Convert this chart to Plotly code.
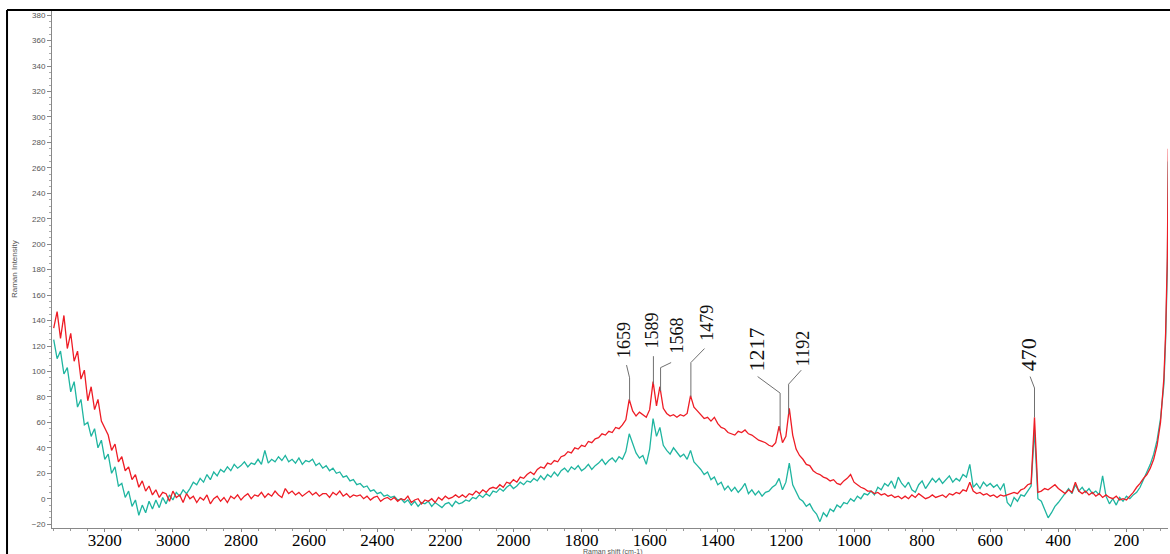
import numpy as np
import plotly.graph_objects as go

# ---------------- data ----------------
wavenumber = list(range(3350, 89, -10)) + [85, 80, 77]

red_intensity = (
    [134, 147, 126, 144, 118, 130, 108, 116, 94, 101]      # 3350-3260
    + [77, 88, 70, 78, 61, 55, 50, 38, 43, 29]             # 3250-3160
    + [33, 22, 25, 15, 19, 9, 14, 6, 10, 3]                # 3150-3060
    + [7, 1, 5, 4, -2, 6, 1, 3, -3, 4]                     # 3050-2960
    + [0, 2, -3, 1, -1, 3, -4, 0, 2, -2]                   # 2950-2860
    + [1, -3, 2, 0, 3, -1, 2, 4, 0, 3]                     # 2850-2760
    + [2, 5, 1, 4, 2, 6, 3, 1, 8, 4]                       # 2750-2660
    + [6, 3, 5, 2, 4, 6, 3, 5, 2, 4]                       # 2650-2560
    + [4, 1, 5, 3, 6, 2, 4, 1, 3, 2]                       # 2550-2460
    + [3, 0, 2, -1, 1, 2, -2, 0, 1, -1]                    # 2450-2360
    + [1, -2, 0, -1, 2, -3, -1, 0, -4, -1]                 # 2350-2260
    + [-2, 0, -3, 1, -1, 2, 0, 1, 3, 1]                    # 2250-2160
    + [3, 1, 4, 3, 6, 4, 7, 5, 8, 9]                       # 2150-2060
    + [8, 11, 9, 13, 12, 15, 13, 17, 16, 19]               # 2050-1960
    + [21, 19, 23, 25, 24, 28, 27, 30, 29, 33]             # 1950-1860
    + [34, 37, 36, 40, 39, 42, 41, 45, 44, 47]             # 1850-1760
    + [48, 51, 50, 53, 52, 56, 55, 58, 62, 78]             # 1750-1660
    + [69, 65, 68, 66, 64, 70, 92, 73, 88, 71]             # 1650-1560
    + [67, 65, 66, 64, 66, 65, 67, 81, 72, 69]             # 1550-1460
    + [66, 63, 64, 61, 64, 59, 56, 55, 52, 51]             # 1450-1360
    + [50, 53, 52, 54, 51, 50, 48, 46, 45, 44]             # 1350-1260
    + [42, 41, 44, 57, 44, 49, 71, 50, 39, 34]             # 1250-1160
    + [31, 27, 26, 22, 20, 19, 17, 16, 14, 15]             # 1150-1060
    + [12, 11, 14, 16, 19, 13, 11, 9, 8, 6]                # 1050-960
    + [6, 4, 5, 3, 4, 2, 3, 1, 2, 0]                       # 950-860
    + [2, 0, 3, 1, 4, 2, 0, 1, 3, 1]                       # 850-760
    + [2, 3, 1, 4, 3, 5, 4, 7, 6, 13]                      # 750-660
    + [6, 4, 5, 3, 4, 2, 3, 1, 3, 2]                       # 650-560
    + [3, 4, 5, 4, 7, 8, 11, 12, 64, 5]                    # 550-460
    + [6, 8, 7, 9, 11, 8, 6, 4, 7, 5]                      # 450-360
    + [13, 6, 4, 6, 3, 5, 2, 4, 1, 3]                      # 350-260
    + [1, 0, 2, -1, 0, -1, 2, 5, 9, 12]                    # 250-160
    + [16, 19, 24, 31, 42, 60, 95]                         # 150-90
    + [130, 190, 275]                                      # 85, 80, 77
)

teal_intensity = (
    [125, 110, 116, 98, 103, 84, 92, 72, 78, 58]           # 3350-3260
    + [60, 49, 55, 40, 46, 31, 35, 20, 25, 10]             # 3250-3160
    + [12, 1, 6, -6, -1, -13, -5, -11, -2, -8]             # 3150-3060
    + [-1, -7, 1, -4, 3, -1, 5, 2, 7, 4]                   # 3050-2960
    + [8, 13, 11, 16, 13, 19, 15, 21, 18, 23]              # 2950-2860
    + [21, 25, 22, 27, 24, 26, 29, 25, 28, 27]             # 2850-2760
    + [31, 27, 38, 28, 31, 29, 33, 30, 34, 29]             # 2750-2660
    + [31, 28, 32, 27, 30, 29, 31, 26, 28, 24]             # 2650-2560
    + [26, 22, 24, 20, 21, 17, 18, 14, 15, 11]             # 2550-2460
    + [12, 9, 10, 6, 7, 4, 5, 2, 3, 1]                     # 2450-2360
    + [2, -1, 0, -3, -1, -5, -2, -6, -3, -4]               # 2350-2260
    + [-2, -6, -3, -5, -7, -4, -3, -6, -2, -4]             # 2250-2160
    + [-3, -1, -2, 1, 0, 3, 1, 4, 2, 6]                    # 2150-2060
    + [5, 8, 6, 9, 11, 8, 10, 13, 11, 14]                  # 2050-1960
    + [13, 16, 14, 18, 15, 19, 17, 21, 18, 22]             # 1950-1860
    + [24, 21, 25, 23, 26, 22, 24, 27, 23, 26]             # 1850-1760
    + [28, 31, 27, 30, 32, 29, 33, 31, 37, 51]             # 1750-1660
    + [43, 36, 32, 34, 27, 39, 63, 49, 56, 42]             # 1650-1560
    + [38, 35, 40, 36, 33, 35, 31, 38, 29, 26]             # 1550-1460
    + [23, 19, 21, 15, 17, 11, 13, 7, 10, 6]               # 1450-1360
    + [9, 5, 8, 12, 4, 7, 3, 6, 2, 5]                      # 1350-1260
    + [6, 9, 11, 16, 7, 13, 28, 11, 6, 0]                  # 1250-1160
    + [-2, -6, -4, -9, -12, -18, -11, -14, -8, -10]        # 1150-1060
    + [-5, -7, -3, -4, 0, -2, 2, 0, 4, 3]                  # 1050-960
    + [6, 3, 9, 7, 12, 10, 14, 8, 17, 12]                  # 950-860
    + [9, 13, 7, 5, 11, 14, 8, 12, 16, 13]                 # 850-760
    + [16, 12, 15, 18, 13, 16, 14, 19, 17, 27]             # 750-660
    + [9, 12, 8, 13, 10, 12, 9, 11, 7, 12]                 # 650-560
    + [-3, -6, 1, -2, 3, 2, 6, 10, 54, 0]                  # 550-460
    + [-2, -9, -15, -11, -6, -3, 1, 5, 8, 4]               # 450-360
    + [11, 6, 9, 5, 8, 4, 6, 3, 18, 2]                     # 350-260
    + [-4, 0, -5, 1, -2, 2, 0, 3, 5, 9]                    # 250-160
    + [15, 21, 27, 35, 46, 63, 90]                         # 150-90
    + [125, 180, 265]                                      # 85, 80, 77
)

x_tick_values = [3200, 3000, 2800, 2600, 2400, 2200, 2000, 1800, 1600, 1400,
                 1200, 1000, 800, 600, 400, 200]
x_tick_labels = [str(v) for v in x_tick_values]
y_tick_values = list(range(-20, 381, 20))

peak_positions = [1659, 1589, 1568, 1479, 1217, 1192, 470]
peak_labels = ["1659", "1589", "1568", "1479", "1217", "1192", "470"]

# label placement (data units): label centre x, label centre y, elbow y, line end x, line end y, font size
label_layout = {
    "1659": dict(lx=1677, ly=125, elbow=95, ex=1668, ey=105, size=18),
    "1589": dict(lx=1594, ly=132, elbow=112, ex=1589, ey=112, size=18),
    "1568": dict(lx=1521, ly=128, elbow=103, ex=1537, ey=107, size=18),
    "1479": dict(lx=1430, ly=138, elbow=107, ex=1439, ey=118, size=18),
    "1217": dict(lx=1286, ly=117, elbow=83, ex=1283, ey=96, size=22),
    "1192": dict(lx=1151, ly=118, elbow=90, ex=1155, ey=101, size=18),
    "470": dict(lx=485, ly=113, elbow=87, ex=483, ey=96, size=22),
}

# ---------------- figure ----------------
fig = go.Figure()
fig.add_trace(go.Scatter(x=wavenumber, y=teal_intensity, mode="lines",
                         line=dict(color="#1fb5a0", width=1.3), showlegend=False))
fig.add_trace(go.Scatter(x=wavenumber, y=red_intensity, mode="lines",
                         line=dict(color="#ee1c25", width=1.3), showlegend=False))

wn_inc = np.array(wavenumber[::-1], dtype=float)
red_inc = np.array(red_intensity[::-1], dtype=float)

shapes = []
annotations = []
for pos, lab in zip(peak_positions, peak_labels):
    cfg = label_layout[lab]
    top = float(np.interp(pos, wn_inc, red_inc))
    shapes.append(dict(type="path", xref="x", yref="y",
                       path=f"M {pos},{top} L {pos},{cfg['elbow']} L {cfg['ex']},{cfg['ey']}",
                       line=dict(color="#707070", width=1)))
    annotations.append(dict(x=cfg["lx"], y=cfg["ly"], xref="x", yref="y", text=lab,
                            textangle=-90, showarrow=False,
                            font=dict(family="Liberation Serif", size=cfg["size"], color="#111")))

# axis titles
annotations.append(dict(x=0.503, y=-0.046, xref="paper", yref="paper", text="Raman shift (cm-1)",
                        showarrow=False, font=dict(family="Liberation Sans", size=7, color="#555"),
                        xanchor="center", yanchor="middle"))
annotations.append(dict(x=-0.034, y=0.5, xref="paper", yref="paper", text="Raman Intensity",
                        textangle=-90, showarrow=False,
                        font=dict(family="Liberation Sans", size=8, color="#555"),
                        xanchor="center", yanchor="middle"))

# outer frame (left and top black lines)
shapes.append(dict(type="line", xref="paper", yref="paper", x0=-0.0403, x1=-0.0403, y0=1.0, y1=-0.06,
                   line=dict(color="black", width=2)))
shapes.append(dict(type="line", xref="paper", yref="paper", x0=-0.0403, x1=1.01, y0=1.0, y1=1.0,
                   line=dict(color="black", width=2)))

fig.update_layout(
    width=1170, height=554,
    margin=dict(l=52, r=2, t=10, b=26),
    paper_bgcolor="white", plot_bgcolor="white",
    shapes=shapes, annotations=annotations,
    showlegend=False,
)
fig.update_xaxes(
    range=[3355, 78], tickmode="array", tickvals=x_tick_values, ticktext=x_tick_labels,
    tickfont=dict(family="Liberation Serif", size=17, color="black"),
    showgrid=False, zeroline=False, showline=True, linecolor="#888", linewidth=1,
    ticks="outside", ticklen=3, tickcolor="#888", ticklabelstandoff=-6,
    minor=dict(dtick=50, ticks="outside", ticklen=2, tickcolor="#999"),
)
fig.update_yaxes(
    range=[-23, 384], tickmode="array", tickvals=y_tick_values,
    tickfont=dict(family="Liberation Sans", size=8, color="#555"),
    showgrid=False, zeroline=False, showline=True, linecolor="#888", linewidth=1,
    ticks="outside", ticklen=4, tickcolor="#888",
    minor=dict(dtick=5, ticks="outside", ticklen=2, tickcolor="#aaa"),
)

fig.write_html("out.html", config={"displayModeBar": False},
               post_script="document.body.style.margin='0';document.body.style.padding='0';")
